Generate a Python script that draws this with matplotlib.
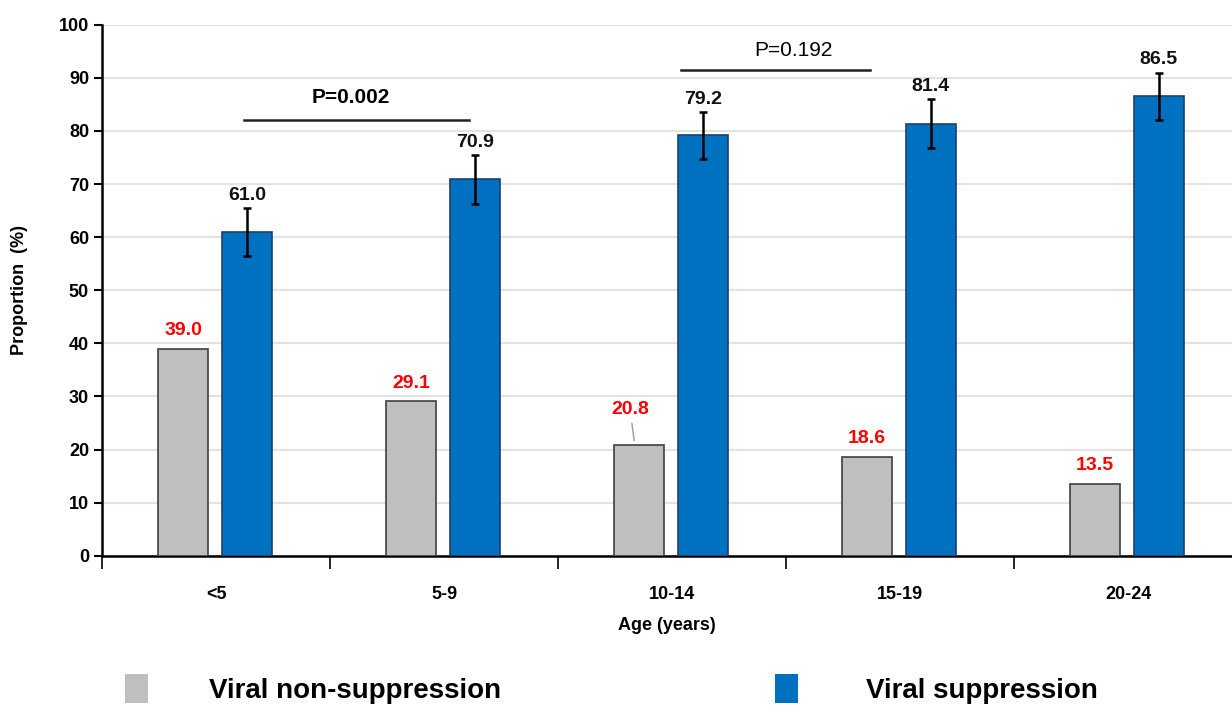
import matplotlib.pyplot as plt
import numpy as np
from matplotlib.patches import Patch

# Viral suppression by age group
ages = ["<5", "5-9", "10-14", "15-19", "20-24"]
non_suppression = [39.0, 29.1, 20.8, 18.6, 13.5]
suppression = [61.0, 70.9, 79.2, 81.4, 86.5]
suppression_err = [4.5, 4.6, 4.4, 4.6, 4.5]

plt.rcParams['font.family'] = ['Liberation Sans', 'DejaVu Sans']

fig = plt.figure(figsize=(12.32, 7.08), dpi=100)
ax = fig.add_axes([0.083, 0.215, 0.917, 0.75])

x = np.arange(len(ages))
w = 0.22
gray_x = x - 0.145
blue_x = x + 0.135

ax.bar(gray_x, non_suppression, width=w, color='#BFBFBF', edgecolor='#404040',
       linewidth=1.2, zorder=3)
ax.bar(blue_x, suppression, width=w, color='#0070C0', edgecolor='#1F3F6F',
       linewidth=1.2, zorder=3)
ax.errorbar(blue_x, suppression, yerr=suppression_err, fmt='none', ecolor='black',
            elinewidth=1.8, capsize=3, capthick=1.8, zorder=4)

# value labels
for i, v in enumerate(non_suppression):
    if i == 2:
        ax.annotate(f"{v:.1f}", xy=(gray_x[i] - 0.02, v + 0.4), xytext=(-0.04 + gray_x[i], v + 5.2),
                    ha='center', va='bottom', color='red', fontsize=14, fontweight='bold',
                    arrowprops=dict(arrowstyle='-', color='#999999', lw=1), zorder=5)
    else:
        ax.annotate(f"{v:.1f}", xy=(gray_x[i], v), xytext=(0, 7), textcoords='offset points',
                    ha='center', va='bottom', color='red', fontsize=14, fontweight='bold')
for i, v in enumerate(suppression):
    ax.annotate(f"{v:.1f}", xy=(blue_x[i], v + suppression_err[i]), xytext=(0, 3),
                textcoords='offset points', ha='center', va='bottom', color='#111111',
                fontsize=14, fontweight='bold')

# significance brackets
ax.plot([0.12, 1.11], [82.1, 82.1], color='#222222', lw=1.8, zorder=5)
ax.text(0.59, 84.5, "P=0.002", ha='center', va='bottom', fontsize=15, fontweight='bold')
ax.plot([2.04, 2.87], [91.5, 91.5], color='#222222', lw=1.8, zorder=5)
ax.text(2.53, 93.3, "P=0.192", ha='center', va='bottom', fontsize=15)

ax.set_xlim(-0.5, 4.456)
ax.set_ylim(0, 100)
ax.set_yticks(np.arange(0, 101, 10))
ax.set_xticks(x)
ax.set_xticklabels(ages, fontsize=13, fontweight='bold')
ax.set_xticks(np.arange(-0.5, 4.0, 1.0), minor=True)
ax.tick_params(axis='x', which='major', length=0, pad=22)
ax.tick_params(axis='x', which='minor', length=9, width=1.2, direction='out')
ax.tick_params(axis='y', length=6, width=1.5, direction='out', labelsize=13)
for lab in ax.get_yticklabels():
    lab.set_fontweight('bold')

ax.grid(axis='y', color='#E3E3E3', lw=1.5, zorder=0)
ax.set_axisbelow(True)
for s in ['top', 'right']:
    ax.spines[s].set_visible(False)
ax.spines['left'].set_linewidth(1.8)
ax.spines['bottom'].set_linewidth(1.8)

ax.set_ylabel("Proportion  (%)", fontsize=13, fontweight='bold', labelpad=22)
ax.set_xlabel("Age (years)", fontsize=13, fontweight='bold', labelpad=10)

# legend, one entry each so they can be placed like the original
leg_items = [('#BFBFBF', 'Viral non-suppression', 0.1015, 2.2),
             ('#0070C0', 'Viral suppression', 0.629, 2.45)]
for color, label, xpos, pad in leg_items:
    fig.legend(handles=[Patch(facecolor=color, edgecolor='none', label=label)],
               loc='center left', bbox_to_anchor=(xpos, 0.027), frameon=False,
               prop={'size': 20, 'weight': 'bold'}, handlelength=0.83, handleheight=1.2,
               handletextpad=pad, borderaxespad=0, borderpad=0)

fig.savefig("out.png", dpi=100)
